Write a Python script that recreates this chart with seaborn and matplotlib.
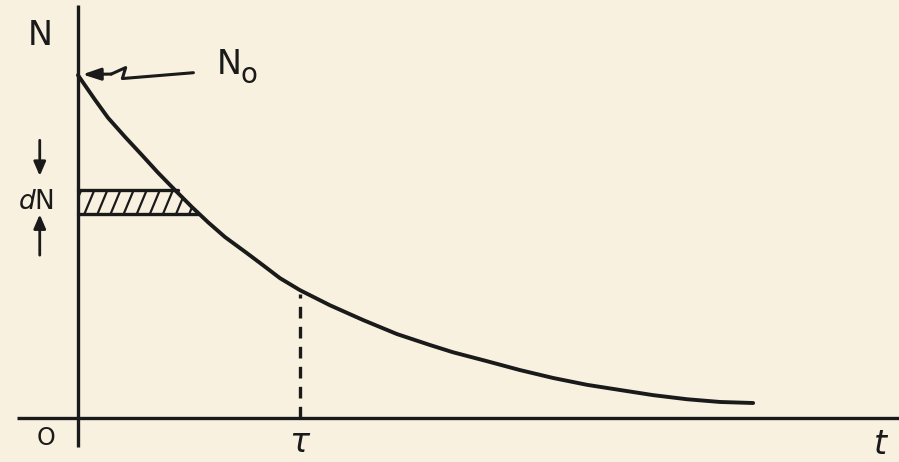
import numpy as np
import pandas as pd
import matplotlib
matplotlib.use("Agg")
import matplotlib.pyplot as plt
from matplotlib.patches import Polygon
from matplotlib.collections import LineCollection
import seaborn as sns

# Decay curve N(t), t in units of the mean life tau, N in units of N0
t_vals = [0.0, 0.077, 0.135, 0.212, 0.288, 0.360, 0.437, 0.514, 0.586, 0.662,
          0.761, 0.833, 0.910, 1.0, 1.135, 1.284, 1.437, 1.586, 1.689, 1.842,
          1.991, 2.140, 2.293, 2.441, 2.590, 2.743, 2.892, 3.041]
n_vals = [1.0, 0.928, 0.876, 0.820, 0.767, 0.716, 0.665, 0.615, 0.571, 0.528,
          0.481, 0.446, 0.408, 0.373, 0.329, 0.286, 0.245, 0.213, 0.192, 0.166,
          0.140, 0.117, 0.097, 0.082, 0.067, 0.055, 0.047, 0.044]

# Slice dN of the population (band between two N levels)
dn_top = 0.665
dn_bottom = 0.595
dn_top_right = 0.45
dn_bottom_right = 0.54

tau = 1.0
n_at_tau = 0.373

ink = "#1a1a1a"
paper = "#f9f1e0"

sns.set_theme(style="white")
plt.rcParams["font.family"] = ["DejaVu Sans"]

fig = plt.figure(figsize=(8.99, 4.62), dpi=100, facecolor=paper)
ax = fig.add_axes([0, 0, 1, 1])
ax.set_facecolor(paper)
ax.set_xlim(-0.351, 3.698)
ax.set_ylim(-0.128, 1.219)
ax.axis("off")

# Hand-drawn axes
ax.plot([0, 0], [-0.085, 1.204], color=ink, lw=2.4, solid_capstyle="butt")
ax.plot([-0.275, 3.70], [0, 0], color=ink, lw=2.4, solid_capstyle="butt")

# Decay curve
df = pd.DataFrame({"t": t_vals, "N": n_vals})
sns.lineplot(data=df, x="t", y="N", ax=ax, color=ink, lw=2.8, legend=False)

# Hatched slice dN: slanted strokes clipped to the band
band = Polygon([(0, dn_top), (dn_top_right, dn_top), (dn_bottom_right, dn_bottom), (0, dn_bottom)],
               closed=True, facecolor="none", edgecolor="none")
ax.add_patch(band)
step = 0.059
slant = 0.045
starts = np.arange(-0.03, dn_bottom_right + 0.02, step)
segs = [[(s, dn_bottom), (s + slant, dn_top)] for s in starts]
strokes = LineCollection(segs, colors=ink, linewidths=1.6, capstyle="butt")
ax.add_collection(strokes)
strokes.set_clip_path(band)
ax.plot([0, dn_top_right], [dn_top, dn_top], color=ink, lw=2.4)
ax.plot([0, dn_bottom_right], [dn_bottom, dn_bottom], color=ink, lw=2.4)

# Dashed line at t = tau
ax.plot([tau, tau], [0, n_at_tau - 0.01], color=ink, lw=2.4, ls=(0, (3.5, 2.5)))

# N0 pointer with a kink
px = [0.52, 0.20, 0.215, 0.15]
py = [1.007, 0.99, 1.022, 1.003]
ax.plot(px, py, color=ink, lw=2.2, solid_joinstyle="round")
ax.annotate("", xy=(0.02, 1.002), xytext=(0.15, 1.003),
            arrowprops=dict(arrowstyle="-|>,head_length=0.9,head_width=0.3",
                            color=ink, lw=2.2, shrinkA=0, shrinkB=0))

# dN arrows
ax.annotate("", xy=(-0.172, 0.706), xytext=(-0.172, 0.81),
            arrowprops=dict(arrowstyle="-|>,head_length=0.7,head_width=0.3",
                            color=ink, lw=2.0, shrinkA=0, shrinkB=0))
ax.annotate("", xy=(-0.172, 0.594), xytext=(-0.172, 0.475),
            arrowprops=dict(arrowstyle="-|>,head_length=0.7,head_width=0.3",
                            color=ink, lw=2.0, shrinkA=0, shrinkB=0))

# Labels
ax.text(-0.17, 1.115, "N", fontsize=24, color=ink, ha="center", va="center")
ax.text(0.68, 1.03, "N", fontsize=24, color=ink, ha="center", va="center")
ax.text(0.77, 1.0, "o", fontsize=20, color=ink, ha="center", va="center")
ax.text(-0.19, 0.63, r"$d$N", fontsize=19, color=ink, ha="center", va="center")
ax.text(-0.144, -0.058, "O", fontsize=17, color=ink, ha="center", va="center")
ax.text(tau, -0.072, r"$\tau$", fontsize=24, color=ink, ha="center", va="center")
ax.text(3.615, -0.078, r"$t$", fontsize=24, color=ink, ha="center", va="center")

fig.savefig("out.png", dpi=100, facecolor=paper)
